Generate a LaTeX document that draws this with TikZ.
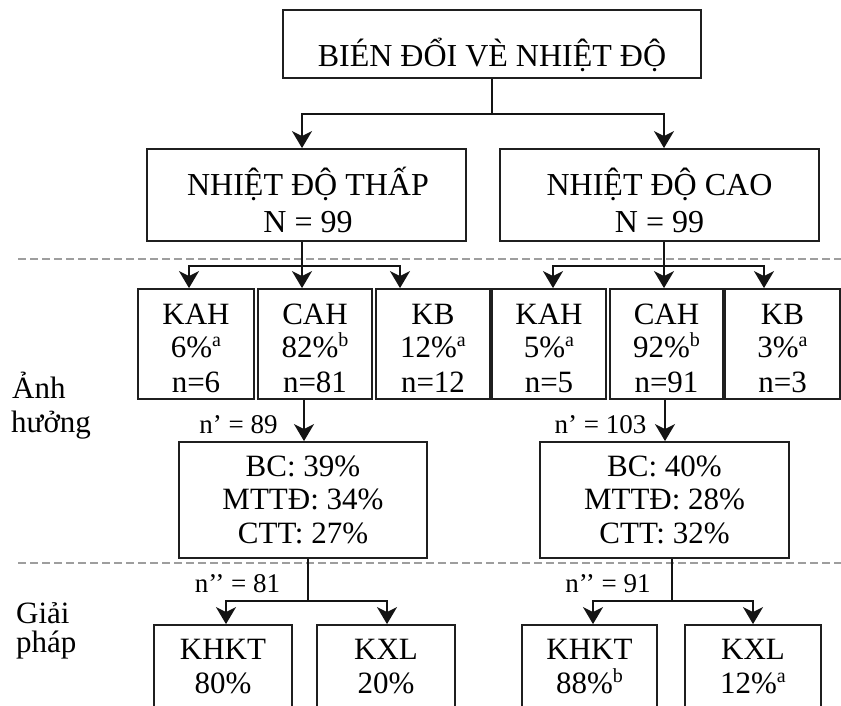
\documentclass[tikz,border=0pt]{standalone}
\usepackage{fontspec}
\setmainfont{Liberation Serif}
\usetikzlibrary{arrows.meta}

% small raised marks after percentages
\newcommand\sups[1]{\raisebox{10.5pt}{\fontsize{20}{20}\selectfont #1}}

\begin{document}
\begin{tikzpicture}[x=1pt,y=-1pt,
  box/.style={draw=black!88, line width=1.8pt, inner sep=0pt},
  big/.style={anchor=base, inner sep=0pt, font=\fontsize{32}{36}\selectfont},
  txt/.style={anchor=base, inner sep=0pt, font=\fontsize{31}{34}\selectfont},
  note/.style={anchor=base, inner sep=0pt, font=\fontsize{27}{30}\selectfont},
  side/.style={anchor=base west, inner sep=0pt, font=\fontsize{31}{34}\selectfont},
  link/.style={line width=1.8pt, black!92},
  arr/.style={link, -{Stealth[length=17pt,width=20pt,inset=5pt]}},
  sep/.style={draw=black!38, line width=2pt, dash pattern=on 8pt off 4pt}]

\clip (0,0) rectangle (841,706);
\fill[white] (0,0) rectangle (841,706);

% ---- dashed separators between the stages
\coordinate (d1a) at (18,259);  \coordinate (d1b) at (841,259);
\coordinate (d2a) at (18,563);  \coordinate (d2b) at (841,563);
\draw[sep] (d1a) -- (d1b);
\draw[sep] (d2a) -- (d2b);

% ---- boxes
\node[box, minimum width=418pt, minimum height=68pt] (top) at (492,44) {};

\node[box, minimum width=319pt, minimum height=92pt] (low)  at (306.5,195) {};
\node[box, minimum width=319pt, minimum height=92pt] (high) at (659.5,195) {};

\node[box, minimum width=116pt, minimum height=110pt] (a1) at (196,344) {};
\node[box, minimum width=114pt, minimum height=110pt] (a2) at (315,344) {};
\node[box, minimum width=114pt, minimum height=110pt] (a3) at (433,344) {};
\node[box, minimum width=114pt, minimum height=110pt] (b1) at (549,344) {};
\node[box, minimum width=113pt, minimum height=110pt] (b2) at (666.5,344) {};
\node[box, minimum width=115pt, minimum height=110pt] (b3) at (782.5,344) {};

\node[box, minimum width=248pt, minimum height=116pt] (effL) at (303,500) {};
\node[box, minimum width=249pt, minimum height=116pt] (effH) at (664.5,500) {};

\node[box, minimum width=138pt, minimum height=105pt] (c1) at (223,677.5) {};
\node[box, minimum width=138pt, minimum height=105pt] (c2) at (386,677.5) {};
\node[box, minimum width=135pt, minimum height=105pt] (e1) at (589.5,677.5) {};
\node[box, minimum width=136pt, minimum height=105pt] (e2) at (753,677.5) {};

% ---- texts
\node[big] (t0) at (492,67) {BIÉN ĐỔI VÈ NHIỆT ĐỘ};

\node[big] (tl1) at (308,196) {NHIỆT ĐỘ THẤP};
\node[big] (tl2) at (308,232) {N = 99};
\node[big] (th1) at (659.5,196) {NHIỆT ĐỘ CAO};
\node[big] (th2) at (659.5,232) {N = 99};

\node[txt] (ta1a) at (196,324) {KAH};
\node[txt] (ta1b) at (196,357) {6\%\sups{a}};
\node[txt] (ta1c) at (196,392) {n=6};
\node[txt] (ta2a) at (315,324) {CAH};
\node[txt] (ta2b) at (315,357) {82\%\sups{b}};
\node[txt] (ta2c) at (315,392) {n=81};
\node[txt] (ta3a) at (433,324) {KB};
\node[txt] (ta3b) at (433,357) {12\%\sups{a}};
\node[txt] (ta3c) at (433,392) {n=12};
\node[txt] (tb1a) at (549,324) {KAH};
\node[txt] (tb1b) at (549,357) {5\%\sups{a}};
\node[txt] (tb1c) at (549,392) {n=5};
\node[txt] (tb2a) at (666.5,324) {CAH};
\node[txt] (tb2b) at (666.5,357) {92\%\sups{b}};
\node[txt] (tb2c) at (666.5,392) {n=91};
\node[txt] (tb3a) at (782.5,324) {KB};
\node[txt] (tb3b) at (782.5,357) {3\%\sups{a}};
\node[txt] (tb3c) at (782.5,392) {n=3};

\node[txt] (tel1) at (303,476) {BC: 39\%};
\node[txt] (tel2) at (303,509) {MTTĐ: 34\%};
\node[txt] (tel3) at (303,543) {CTT: 27\%};
\node[txt] (teh1) at (664.5,476) {BC: 40\%};
\node[txt] (teh2) at (664.5,509) {MTTĐ: 28\%};
\node[txt] (teh3) at (664.5,543) {CTT: 32\%};

\node[txt] (tc1a) at (223,659) {KHKT};
\node[txt] (tc1b) at (223,693) {80\%};
\node[txt] (tc2a) at (386,659) {KXL};
\node[txt] (tc2b) at (386,693) {20\%};
\node[txt] (te1a) at (589.5,659) {KHKT};
\node[txt] (te1b) at (589.5,693) {88\%\sups{b}};
\node[txt] (te2a) at (753,659) {KXL};
\node[txt] (te2b) at (753,693) {12\%\sups{a}};

\node[side] (s1) at (12,398) {Ảnh};
\node[side] (s2) at (11,432) {hưởng};
\node[side] (s3) at (16,623) {Giải};
\node[side] (s4) at (16,652) {pháp};

\node[note] (n1) at (238.5,433) {n’ = 89};
\node[note] (n2) at (600.5,433) {n’ = 103};
\node[note] (n3) at (237.5,592) {n’’ = 81};
\node[note] (n4) at (608,592) {n’’ = 91};

% ---- column positions of the connectors
\coordinate (xL)  at (302,0);   \coordinate (xH)  at (664,0);
\coordinate (xa1) at (189,0);   \coordinate (xa3) at (400,0);
\coordinate (xb1) at (553,0);   \coordinate (xb3) at (764,0);
\coordinate (xeL) at (304,0);   \coordinate (xeH) at (665,0);
\coordinate (xoL) at (308,0);   \coordinate (xoH) at (672,0);
\coordinate (xc1) at (226,0);   \coordinate (xc2) at (387,0);
\coordinate (xe1) at (593,0);   \coordinate (xe2) at (753,0);

% ---- split points
\coordinate (k0) at (492,114);
\coordinate (kL) at (302,266);
\coordinate (kH) at (664,266);
\coordinate (mL) at (308,601);
\coordinate (mH) at (672,601);

% top -> low / high
\draw[link] (top) -- (k0);
\draw[arr] (k0) -| (low.north -| xL);
\draw[arr] (k0) -| (high.north -| xH);

% low -> KAH / CAH / KB
\draw[link] (low.south -| kL) -- (kL);
\draw[arr] (kL) -| (a1.north -| xa1);
\draw[arr] (kL) -- (a2.north -| xL);
\draw[arr] (kL) -| (a3.north -| xa3);

% high -> KAH / CAH / KB
\draw[link] (high.south -| kH) -- (kH);
\draw[arr] (kH) -| (b1.north -| xb1);
\draw[arr] (kH) -- (b2.north -| xH);
\draw[arr] (kH) -| (b3.north -| xb3);

% CAH -> effects
\draw[arr] (a2.south -| xeL) -- (effL.north -| xeL);
\draw[arr] (b2.south -| xeH) -- (effH.north -| xeH);

% effects -> solutions
\draw[link] (effL.south -| mL) -- (mL);
\draw[arr] (mL) -| (c1.north -| xc1);
\draw[arr] (mL) -| (c2.north -| xc2);
\draw[link] (effH.south -| mH) -- (mH);
\draw[arr] (mH) -| (e1.north -| xe1);
\draw[arr] (mH) -| (e2.north -| xe2);
\end{tikzpicture}
\end{document}
